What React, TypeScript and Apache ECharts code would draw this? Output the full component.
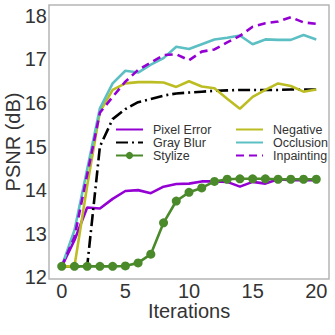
import React, { useEffect, useRef } from "react";
import * as echarts from "echarts";

const iterations = Array.from({ length: 21 }, (_, i) => i);
const xTicks = [0, 5, 10, 15, 20];
const yTicks = [12, 13, 14, 15, 16, 17, 18];

const pixelError = [12.25, 12.85, 13.6, 13.58, 13.8, 13.98, 14.0, 13.93, 14.08, 14.14, 14.15, 14.2, 14.2, 14.19, 14.08, 14.19, 14.15, 14.25, 14.23, 14.23, 14.23];
const grayBlur = [12.25, 12.25, 12.25, 15.0, 15.63, 15.86, 16.02, 16.09, 16.17, 16.22, 16.24, 16.26, 16.28, 16.29, 16.3, 16.3, 16.3, 16.3, 16.31, 16.31, 16.31];
const stylize = [12.25, 12.25, 12.25, 12.25, 12.25, 12.26, 12.33, 12.53, 13.25, 13.75, 13.95, 14.05, 14.2, 14.25, 14.26, 14.26, 14.26, 14.25, 14.25, 14.25, 14.25];
const negative = [12.25, 12.25, 14.1, 15.8, 16.3, 16.45, 16.48, 16.48, 16.47, 16.37, 16.5, 16.38, 16.34, 16.1, 15.87, 16.14, 16.3, 16.45, 16.39, 16.26, 16.31];
const occlusion = [12.25, 13.08, 14.48, 15.88, 16.45, 16.74, 16.7, 16.88, 17.03, 17.29, 17.24, 17.35, 17.46, 17.5, 17.55, 17.35, 17.46, 17.45, 17.45, 17.56, 17.46];
const inpainting = [12.25, 12.92, 14.36, 15.78, 16.14, 16.49, 16.76, 16.93, 17.1, 17.12, 16.98, 17.18, 17.23, 17.39, 17.54, 17.75, 17.83, 17.87, 17.97, 17.85, 17.82];

const FONT = "Liberation Sans, Arial, sans-serif";

export default function App() {
  const ref = useRef<HTMLDivElement>(null);
  useEffect(() => {
    if (!ref.current) return;
    const chart = echarts.init(ref.current, undefined, { renderer: "svg" });
    const pair = (arr: number[]) => iterations.map((x, i) => [x, arr[i]]);
    const lineSeries = (name: string, data: number[], color: string, type: any, extra: any = {}) => ({
      name,
      type: "line",
      data: pair(data),
      symbol: "none",
      lineStyle: { color, width: 2.6, type },
      itemStyle: { color },
      ...extra,
    });
    const noDot = (name: string) => ({ name, itemStyle: { opacity: 0 } });
    const legendBase = {
      orient: "vertical",
      top: 123,
      padding: 0,
      itemGap: 0,
      itemWidth: 27,
      itemHeight: 9,
      textStyle: { fontSize: 12.5, color: "#333", fontFamily: FONT, lineHeight: 12.5, padding: [0, 0, 0, 5] },
    };
    chart.setOption({
      animation: false,
      textStyle: { fontFamily: FONT },
      grid: {
        left: 49,
        right: 6,
        top: 5,
        bottom: 56,
        outerBoundsMode: "none",
        containLabel: false,
        show: true,
        borderColor: "#b5b5b5",
        borderWidth: 1.5,
      },
      legend: [
        {
          ...legendBase,
          left: 115,
          data: [noDot("Pixel Error"), noDot("Gray Blur"), { name: "Stylize" }],
        },
        {
          ...legendBase,
          left: 235,
          data: [noDot("Negative"), noDot("Occlusion"), noDot("Inpainting")],
        },
      ],
      xAxis: {
        type: "value",
        min: -1,
        max: 21,
        name: "Iterations",
        nameLocation: "middle",
        nameGap: 22,
        nameMoveOverlap: false,
        nameTextStyle: { fontSize: 20, color: "#333", fontFamily: FONT },
        axisLine: { show: false },
        axisTick: { show: false },
        splitLine: { show: false },
        axisLabel: { customValues: xTicks, fontSize: 20, color: "#333", margin: 2, fontFamily: FONT },
      },
      yAxis: {
        type: "value",
        min: 11.96,
        max: 18.25,
        name: "PSNR (dB)",
        nameLocation: "middle",
        nameGap: 26,
        nameMoveOverlap: false,
        nameTextStyle: { fontSize: 20, color: "#333", fontFamily: FONT },
        axisLine: { show: false },
        axisTick: { show: false },
        splitLine: { show: false },
        axisLabel: { customValues: yTicks, fontSize: 20, color: "#333", margin: 2, fontFamily: FONT },
      },
      series: [
        lineSeries("Pixel Error", pixelError, "#9400d3", "solid"),
        lineSeries("Gray Blur", grayBlur, "#000000", [12, 4, 2, 4]),
        lineSeries("Stylize", stylize, "#4a8a2a", "solid", {
          symbol: "circle",
          symbolSize: 9,
          showSymbol: true,
        }),
        lineSeries("Negative", negative, "#bcbd22", "solid"),
        lineSeries("Occlusion", occlusion, "#5cbfc3", "solid"),
        lineSeries("Inpainting", inpainting, "#9400d3", [8, 5]),
      ],
    });
    return () => chart.dispose();
  }, []);
  return (
    <div
      ref={ref}
      style={{ position: "absolute", left: 0, top: 0, width: 335, height: 335 }}
    />
  );
}
